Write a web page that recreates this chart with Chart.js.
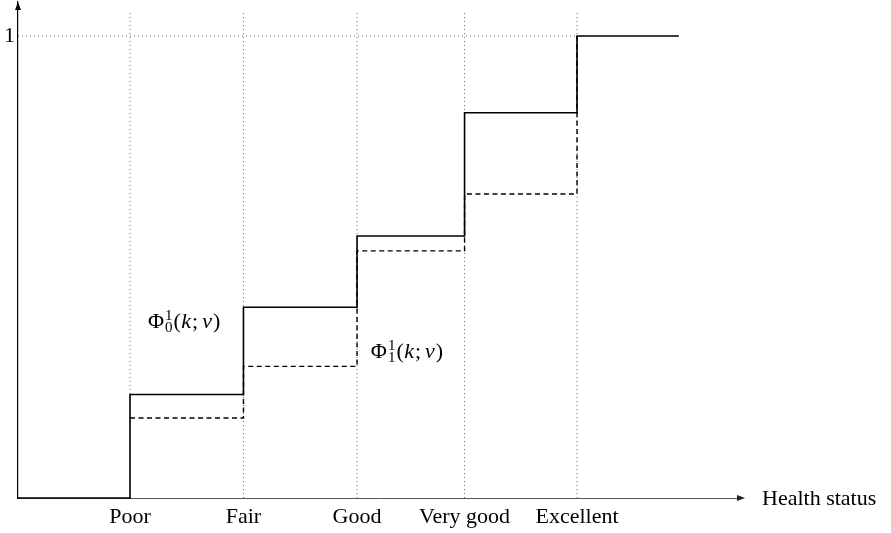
<!DOCTYPE html>
<html><head><meta charset="utf-8">
<script src="https://cdn.jsdelivr.net/npm/chart.js@4"></script>
<style>html,body{margin:0;padding:0;background:#fff}#wrap{width:891px;height:533px;position:relative}</style>
</head><body><div id="wrap"><canvas id="c" width="891" height="533"></canvas></div>
<script>
// ---- data ----
const categories = ['Poor', 'Fair', 'Good', 'Very good', 'Excellent'];
const categoryX = [1, 2.013, 3.027, 3.987, 4.991];
const phi0Values = [0.224, 0.413, 0.567, 0.834, 1.0];   // solid step: Φ_0^1(k;ν)
const phi1Values = [0.173, 0.285, 0.535, 0.658, 1.0];   // dashed step: Φ_1^1(k;ν)
const startX = 0;
const endX = 5.9;
const yTickValues = [1];
const yTickLabels = ['1'];
const xAxisTitle = 'Health status';
const guideTop = 1.05;
// annotation anchors (data units)
const labelPhi0 = { x: 1.16, y: 0.369, sub: '0' };
const labelPhi1 = { x: 3.15, y: 0.302, sub: '1' };

const SERIF = '"Liberation Serif", "DejaVu Serif", serif';
const FS = 22;

const solidData = [{ x: startX, y: 0 }]
  .concat(categoryX.map((x, i) => ({ x, y: phi0Values[i] })))
  .concat([{ x: endX, y: phi0Values[phi0Values.length - 1] }]);
const dashedData = categoryX.map((x, i) => ({ x, y: phi1Values[i] }));

const guideStyle = {
  borderColor: '#6a6a6a', borderWidth: 1, borderDash: [1, 3],
  pointRadius: 0, fill: false, clip: false, tension: 0
};
const guides = categoryX.map(x => Object.assign({
  data: [{ x, y: 0 }, { x, y: guideTop }]
}, guideStyle));
guides.push(Object.assign({
  data: [{ x: startX, y: 1 }, { x: categoryX[categoryX.length - 1], y: 1 }]
}, guideStyle));

const arrowPlugin = {
  id: 'arrowsAndText',
  afterDraw(chart) {
    const { ctx, chartArea, scales } = chart;
    const xs = scales.x, ys = scales.y;
    ctx.save();
    // x arrow
    const ay = ys.getPixelForValue(0);
    const ax = chartArea.right;
    ctx.fillStyle = '#222';
    ctx.beginPath();
    ctx.moveTo(ax + 3, ay);
    ctx.lineTo(ax - 5, ay - 3);
    ctx.lineTo(ax - 5, ay + 3);
    ctx.closePath();
    ctx.fill();
    // y arrow
    const tx = xs.getPixelForValue(0);
    const ty = chartArea.top;
    ctx.fillStyle = '#000';
    ctx.beginPath();
    ctx.moveTo(tx, ty);
    ctx.lineTo(tx - 3, ty + 8);
    ctx.lineTo(tx + 3, ty + 8);
    ctx.closePath();
    ctx.fill();
    // axis title
    ctx.fillStyle = '#000';
    ctx.font = FS + 'px ' + SERIF;
    ctx.textBaseline = 'alphabetic';
    ctx.textAlign = 'left';
    ctx.fillText(xAxisTitle, ax + 20, ay + 7);
    // math labels
    function phi(lbl) {
      let x = xs.getPixelForValue(lbl.x);
      const y = ys.getPixelForValue(lbl.y);
      ctx.font = FS + 'px ' + SERIF;
      ctx.fillText('Φ', x, y);
      x += ctx.measureText('Φ').width + 1;
      ctx.font = '15px ' + SERIF;
      ctx.fillText('1', x, y - 8);
      ctx.fillText(lbl.sub, x, y + 4);
      x += ctx.measureText('1').width + 1;
      ctx.font = FS + 'px ' + SERIF;
      ctx.fillText('(', x, y); x += ctx.measureText('(').width + 0.5;
      ctx.font = 'italic ' + FS + 'px ' + SERIF;
      ctx.fillText('k', x, y); x += ctx.measureText('k').width + 1;
      ctx.font = FS + 'px ' + SERIF;
      ctx.fillText(';', x, y); x += ctx.measureText(';').width + 4;
      ctx.font = 'italic ' + FS + 'px ' + SERIF;
      ctx.fillText('ν', x, y); x += ctx.measureText('ν').width + 1;
      ctx.font = FS + 'px ' + SERIF;
      ctx.fillText(')', x, y);
    }
    phi(labelPhi0);
    phi(labelPhi1);
    ctx.restore();
  }
};

new Chart(document.getElementById('c'), {
  type: 'line',
  data: {
    datasets: [
      { data: solidData, stepped: 'before', borderColor: '#000', borderWidth: 1.6,
        pointRadius: 0, fill: false, clip: false },
      { data: dashedData, stepped: 'before', borderColor: '#000', borderWidth: 1.4,
        borderDash: [5, 3.5], pointRadius: 0, fill: false, clip: false }
    ].concat(guides)
  },
  options: {
    responsive: false,
    animation: false,
    events: [],
    layout: { padding: { left: 0, right: 149, top: 2, bottom: 0 } },
    plugins: { legend: { display: false }, tooltip: { enabled: false } },
    scales: {
      x: {
        type: 'linear', min: 0, max: 6.464,
        afterBuildTicks: s => { s.ticks = categoryX.map(v => ({ value: v })); },
        afterFit: s => { s.height = 35; s.paddingLeft = 0; s.paddingRight = 0; },
        ticks: {
          autoSkip: false, maxRotation: 0, minRotation: 0, padding: 6,
          color: '#000', font: { family: SERIF, size: FS },
          callback: (v, i) => categories[i]
        },
        grid: { display: false, drawTicks: false },
        border: { display: true, color: '#555', width: 1 }
      },
      y: {
        type: 'linear', min: 0, max: 1.0736,
        afterBuildTicks: s => { s.ticks = yTickValues.map(v => ({ value: v })); },
        afterFit: s => { s.width = 18; s.paddingTop = 0; s.paddingBottom = 0; },
        ticks: {
          padding: 3, color: '#000', font: { family: SERIF, size: FS },
          callback: (v, i) => yTickLabels[i]
        },
        grid: { display: false, drawTicks: false },
        border: { display: true, color: '#000', width: 1.2 }
      }
    }
  },
  plugins: [arrowPlugin]
});
</script>
</body></html>
